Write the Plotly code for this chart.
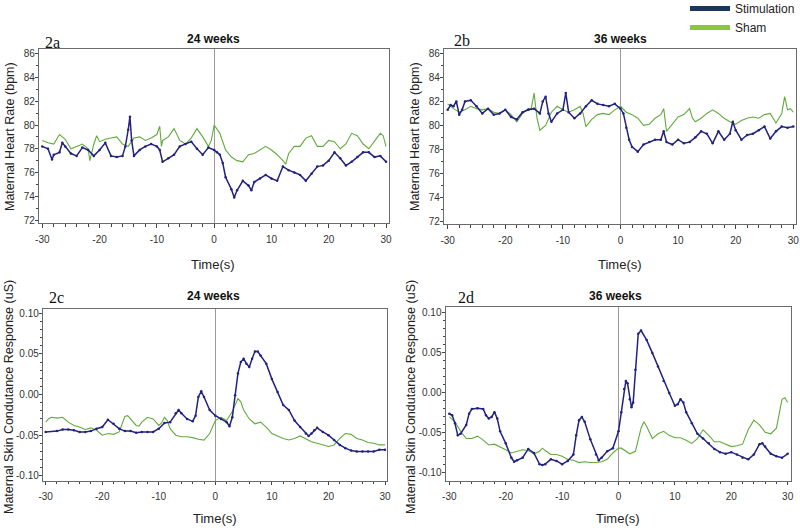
import plotly.graph_objects as go

# ---------------- data ----------------
# Panel 2a (24 weeks, heart rate)
t_a_stim = [-30,-29,-28.3,-28,-27,-26.5,-26,-25,-24,-23,-22,-21,-20,-19,-18,-17,-16,-15.5,-15,-14.7,-14.4,-14,-13,-12,-11,-10,-9.5,-9,-8,-7,-6,-5,-4,-3,-2,-1,0,0.5,1,1.5,2,3,3.5,4,5,6,6.5,7,8,9,10,11,12,13,14,15,16,17,18,19,20,21,22,23,24,25,26,27,28,29,30]
hr_a_stim = [78.2,78.0,77.1,77.5,77.7,78.5,78.2,77.6,77.4,78.1,77.9,77.4,77.9,78.5,77.4,77.3,77.4,78.2,79.6,80.7,78.7,77.4,77.9,78.2,78.4,78.2,77.9,76.9,77.2,77.5,78.2,78.4,78.6,78.0,77.5,78.1,77.9,77.7,77.5,76.8,75.6,74.6,73.9,74.5,75.3,74.9,74.5,75.2,75.5,75.8,75.5,75.3,76.5,76.2,76.0,75.8,75.3,75.9,76.5,76.6,77.0,77.7,77.2,76.6,76.9,77.3,77.7,77.7,77.3,77.4,76.9]
t_a_sham = [-30,-29,-28,-27,-26,-25,-24,-23,-22,-21.7,-21,-20.5,-20,-19,-18,-17,-16,-15,-14,-13,-12,-11,-10,-9.5,-9.2,-9,-8,-7,-6,-5,-4,-3,-2,-1,-0.5,0,1,2,3,4,5,6,7,8,9,10,11,12,12.5,13,14,15,16,17,18,19,20,21,22,23,24,25,26,27,28,29,29.5,30]
hr_a_sham = [78.7,78.5,78.4,79.2,78.8,78.0,78.2,78.4,78.0,77.0,78.4,79.1,78.6,78.8,78.9,79.0,78.4,78.2,78.9,79.0,78.7,78.9,79.2,79.9,78.2,78.7,79.0,79.7,78.7,78.4,78.9,79.7,79.0,78.2,78.7,80.0,79.3,77.9,77.3,77.0,76.9,77.5,77.6,77.9,78.2,77.9,77.5,77.0,76.7,77.6,78.2,78.2,78.9,79.1,78.2,78.2,78.7,78.6,78.0,78.4,79.3,79.1,78.4,78.0,78.7,79.3,79.1,78.2]

# Panel 2b (36 weeks, heart rate)
t_b_stim = [-30,-29.5,-29,-28.5,-28,-27.5,-27,-26,-25,-24,-23,-22,-21,-20,-19,-18,-17,-16,-15,-14,-13.5,-13,-12.5,-12,-11,-10,-9.5,-9,-8,-7,-6,-5,-4,-3,-2,-1,0,0.5,1,1.5,2,3,4,5,6,7,7.5,8,9,10,11,12,13,14,15,16,17,18,19,19.5,20,21,22,23,24,25,26,27,28,29,30]
hr_b_stim = [81.3,81.7,81.6,82.0,80.9,81.3,82.0,82.1,81.6,81.0,81.4,80.9,81.0,81.3,80.7,80.5,81.1,81.3,81.4,81.0,82.0,82.4,81.0,80.3,81.0,81.3,82.7,81.1,80.6,81.0,81.6,82.1,81.8,81.7,81.6,81.8,81.4,81.0,79.8,78.8,78.2,77.8,78.4,78.6,78.8,78.8,79.5,78.6,78.4,78.8,78.5,78.6,79.0,79.5,79.3,78.5,79.5,78.8,79.3,80.3,79.6,78.8,79.2,79.3,79.6,79.9,78.9,79.5,79.9,79.8,79.9]
t_b_sham = [-30,-29,-28,-27,-26,-25,-24,-23,-22,-21,-20,-19,-18,-17,-16,-15.5,-15,-14.5,-14,-13,-12,-11,-10,-9,-8,-7,-6.5,-6,-5,-4,-3,-2,-1,0,1,2,3,4,5,6,7,7.5,8,9,10,11,12,12.5,13,14,15,16,17,18,19,20,21,22,23,24,25,26,27,28,28.5,29,29.5,30]
hr_b_sham = [81.8,81.4,81.1,81.3,81.6,81.4,81.3,81.4,81.1,81.0,81.3,80.9,80.3,81.0,81.4,81.4,82.7,80.6,79.6,80.0,81.1,81.6,81.3,81.1,81.3,81.6,81.0,79.9,80.5,80.9,81.0,80.9,81.3,81.6,81.1,80.9,80.6,80.0,80.1,80.6,80.9,81.4,79.5,80.1,80.7,80.9,81.4,80.6,80.3,80.6,81.0,81.3,81.0,80.6,80.3,80.1,80.4,80.6,80.7,80.6,80.9,81.0,80.2,81.0,82.4,81.3,81.4,81.1]

# Panel 2c (24 weeks, skin conductance)
t_c_stim = [-30,-28,-27,-26,-25,-24,-23,-22,-21,-20,-19,-18,-17,-16,-15,-14,-13,-12,-11,-10,-9,-8,-7,-6.5,-6,-5,-4,-3.5,-3,-2.5,-2,-1,0,1,2,2.5,3,3.5,4,4.5,5,5.5,6,6.5,7,7.5,8,9,10,11,12,13,14,15,16,16.5,17,17.5,18,19,20,21,22,23,24,25,26,27,28,29,30]
sc_c_stim = [-0.046,-0.045,-0.043,-0.043,-0.044,-0.046,-0.046,-0.045,-0.042,-0.040,-0.031,-0.036,-0.042,-0.045,-0.045,-0.047,-0.046,-0.046,-0.046,-0.042,-0.035,-0.034,-0.023,-0.019,-0.023,-0.030,-0.033,-0.026,-0.003,0.004,-0.003,-0.019,-0.026,-0.030,-0.034,-0.039,-0.028,-0.001,0.026,0.040,0.044,0.038,0.034,0.044,0.053,0.053,0.048,0.038,0.019,0.003,-0.013,-0.019,-0.032,-0.040,-0.048,-0.051,-0.048,-0.044,-0.041,-0.046,-0.050,-0.056,-0.062,-0.066,-0.069,-0.070,-0.070,-0.070,-0.070,-0.068,-0.068]
t_c_sham = [-30,-29.5,-29,-28,-27,-26,-25,-24,-23,-22,-21,-20,-19,-18,-17,-16.5,-16,-15.5,-15,-14,-13.5,-13,-12,-11,-10,-9.5,-9,-8.5,-8,-7,-6,-5,-4,-3,-2,-1,0,1,2,3,4,4.5,5,6,7,8,9,10,11,12,13,14,15,16,17,18,19,20,21,22,23,24,25,26,27,28,29,30]
sc_c_sham = [-0.034,-0.030,-0.028,-0.029,-0.028,-0.034,-0.038,-0.040,-0.043,-0.041,-0.044,-0.050,-0.048,-0.049,-0.046,-0.036,-0.027,-0.026,-0.030,-0.038,-0.039,-0.034,-0.028,-0.030,-0.038,-0.035,-0.028,-0.032,-0.042,-0.050,-0.052,-0.052,-0.053,-0.055,-0.056,-0.048,-0.032,-0.028,-0.032,-0.021,-0.005,-0.009,-0.019,-0.030,-0.036,-0.034,-0.040,-0.048,-0.051,-0.054,-0.056,-0.054,-0.051,-0.054,-0.058,-0.060,-0.062,-0.064,-0.062,-0.054,-0.048,-0.049,-0.054,-0.056,-0.059,-0.060,-0.062,-0.062]

# Panel 2d (36 weeks, skin conductance)
t_d_stim = [-30,-29.5,-29,-28.5,-28,-27,-26.5,-26,-25,-24,-23.5,-23,-22.5,-22,-21.5,-21,-20,-19,-18.5,-18,-17,-16,-15,-14,-13.5,-13,-12,-11,-10,-9,-8,-7.5,-7,-6.5,-6,-5,-4,-3.5,-3,-2,-1,0,0.5,1,1.3,1.6,2,2.3,2.6,3,3.5,4,5,6,7,8,9,10,10.5,11,11.5,12,13,14,15,16,17,18,19,20,21,22,23,24,25,25.5,26,27,28,29,30]
sc_d_stim = [-0.026,-0.028,-0.038,-0.053,-0.051,-0.040,-0.026,-0.020,-0.019,-0.020,-0.028,-0.032,-0.030,-0.024,-0.032,-0.048,-0.063,-0.081,-0.086,-0.084,-0.081,-0.070,-0.075,-0.089,-0.090,-0.089,-0.083,-0.085,-0.089,-0.085,-0.077,-0.053,-0.034,-0.030,-0.036,-0.058,-0.077,-0.084,-0.081,-0.073,-0.069,-0.048,-0.024,0.005,0.015,0.012,-0.008,-0.018,-0.012,0.029,0.074,0.078,0.066,0.050,0.033,0.015,0.000,-0.016,-0.014,-0.008,-0.012,-0.024,-0.038,-0.051,-0.057,-0.063,-0.070,-0.074,-0.076,-0.074,-0.077,-0.081,-0.083,-0.077,-0.064,-0.063,-0.067,-0.076,-0.079,-0.081,-0.076]
t_d_sham = [-30,-29,-28,-27,-26,-25,-24,-23,-22,-21,-20,-19,-18,-17,-16,-15,-14,-13.5,-13,-12,-11,-10,-9,-8,-7,-6,-5,-4,-3,-2,-1,0,0.5,1,2,3,4,4.5,5,6,7,8,9,10,11,12,13,14,15,16,17,18,19,20,21,22,23,24,25,26,27,28,29,29.5,30]
sc_d_sham = [-0.030,-0.036,-0.048,-0.057,-0.057,-0.054,-0.059,-0.065,-0.064,-0.067,-0.071,-0.075,-0.073,-0.071,-0.072,-0.076,-0.073,-0.069,-0.072,-0.077,-0.077,-0.079,-0.083,-0.084,-0.087,-0.086,-0.087,-0.087,-0.086,-0.083,-0.075,-0.069,-0.069,-0.071,-0.076,-0.073,-0.044,-0.036,-0.042,-0.057,-0.051,-0.048,-0.053,-0.056,-0.056,-0.059,-0.063,-0.057,-0.046,-0.053,-0.061,-0.061,-0.064,-0.067,-0.066,-0.064,-0.046,-0.034,-0.040,-0.049,-0.051,-0.044,-0.008,-0.006,-0.012]

panel_labels = ["2a", "2b", "2c", "2d"]
panel_titles = ["24 weeks", "36 weeks", "24 weeks", "36 weeks"]
series_names = ["Stimulation", "Sham"]
hr_ticks = [72, 74, 76, 78, 80, 82, 84, 86]
sc_ticks = [-0.10, -0.05, 0.00, 0.05, 0.10]
sc_tick_text = ["-0.10", "-0.05", "0.00", "0.05", "0.10"]
x_ticks = [-30, -20, -10, 0, 10, 20, 30]
x_tick_text = ["-30", "-20", "-10", "0", "10", "20", "30"]

# ---------------- style ----------------
NAVY = "#22227f"
GREEN = "#62aa3c"
LEG_NAVY = "#1b365d"
LEG_GREEN = "#8cc63f"
FONT = "Liberation Sans, Arial, sans-serif"

fig = go.Figure()

panels = [
    (t_a_stim, hr_a_stim, t_a_sham, hr_a_sham),
    (t_b_stim, hr_b_stim, t_b_sham, hr_b_sham),
    (t_c_stim, sc_c_stim, t_c_sham, sc_c_sham),
    (t_d_stim, sc_d_stim, t_d_sham, sc_d_sham),
]
suffix = ["", "2", "3", "4"]
for i, (ts, ys, tg, yg) in enumerate(panels):
    xa, ya = "x" + suffix[i], "y" + suffix[i]
    fig.add_trace(go.Scatter(x=tg, y=yg, mode="lines", line=dict(color=GREEN, width=1.1),
                             xaxis=xa, yaxis=ya, showlegend=False))
    fig.add_trace(go.Scatter(x=ts, y=ys, mode="lines+markers", line=dict(color=NAVY, width=1.5),
                             marker=dict(color=NAVY, size=2.5),
                             xaxis=xa, yaxis=ya, showlegend=False))

# legend entries
fig.add_trace(go.Scatter(x=[None], y=[None], mode="lines", name=series_names[0],
                         line=dict(color=LEG_NAVY, width=5)))
fig.add_trace(go.Scatter(x=[None], y=[None], mode="lines", name=series_names[1],
                         line=dict(color=LEG_GREEN, width=5)))

W, H = 800, 528
# plot boxes in pixel space -> domains
boxes = [(39.3, 389.0, 49.0, 223.0), (444.3, 796.0, 49.0, 224.0),
         (43.3, 386.7, 309.0, 480.5), (446.0, 791.0, 307.3, 480.5)]
xranges = [[-30.52, 30.52], [-30.59, 30.47], [-30.42, 30.3], [-30.59, 30.59]]
yranges = [[71.75, 86.4], [71.75, 86.39], [-0.1058, 0.1053], [-0.1094, 0.107]]

axis_common = dict(showline=True, linecolor="#6b6b6b", linewidth=1, mirror=True,
                   ticks="outside", ticklen=3.5, tickcolor="#444", showgrid=False,
                   automargin=False,
                   tickfont=dict(family=FONT, size=10, color="#333"))
for i in range(4):
    x0, x1, y0, y1 = boxes[i]
    xd = [x0 / W, x1 / W]
    yd = [1 - y1 / H, 1 - y0 / H]
    xkey = "xaxis" + suffix[i]
    ykey = "yaxis" + suffix[i]
    fig.update_layout(**{
        xkey: dict(domain=xd, range=xranges[i], anchor="y" + suffix[i],
                   tickvals=x_ticks, ticktext=x_tick_text,
                   zeroline=True, zerolinecolor="#9a9a9a", zerolinewidth=1,
                   ticklabelstandoff=3,
                   minor=dict(dtick=2, ticks="outside", ticklen=2.5, tickcolor="#444"),
                   **axis_common),
        ykey: dict(domain=yd, range=yranges[i], anchor="x" + suffix[i], zeroline=False,
                   ticklabelstandoff=-2,
                   **axis_common),
    })
    if i < 2:
        fig.update_layout(**{ykey: dict(tickvals=hr_ticks,
                                        minor=dict(dtick=1, ticks="outside", ticklen=2.5, tickcolor="#444"))})
    else:
        fig.update_layout(**{ykey: dict(tickvals=sc_ticks, ticktext=sc_tick_text,
                                        minor=dict(dtick=0.01, ticks="outside", ticklen=2.5, tickcolor="#444"))})

annotations = []
ytitles = ["Maternal Heart Rate (bpm)", "Maternal Heart Rate (bpm)",
           "Maternal Skin Condutance Response (uS)", "Maternal Skin Condutance Response (uS)"]
ytitle_pos = [(10, 137), (415, 137), (9, 397), (411, 397)]
xtitle_pos = [(213, 264), (620, 264), (215, 518), (618, 518)]
title_pos = [(213, 39), (620, 39), (213, 296), (615, 296)]
label_pos = [(43, 42), (452, 40), (47, 297), (456, 297)]
for i in range(4):
    annotations.append(dict(text=ytitles[i], x=ytitle_pos[i][0] / W, y=1 - ytitle_pos[i][1] / H,
                            xref="paper", yref="paper", textangle=-90, showarrow=False,
                            xanchor="center", yanchor="middle",
                            font=dict(family=FONT, size=12.5, color="#222")))
    annotations.append(dict(text="Time(s)", x=xtitle_pos[i][0] / W, y=1 - xtitle_pos[i][1] / H,
                            xref="paper", yref="paper", showarrow=False,
                            xanchor="center", yanchor="middle",
                            font=dict(family=FONT, size=13, color="#222")))
    annotations.append(dict(text="<b>" + panel_titles[i] + "</b>", x=title_pos[i][0] / W,
                            y=1 - title_pos[i][1] / H, xref="paper", yref="paper", showarrow=False,
                            xanchor="center", yanchor="middle",
                            font=dict(family=FONT, size=12, color="#111")))
    annotations.append(dict(text=panel_labels[i], x=label_pos[i][0] / W, y=1 - label_pos[i][1] / H,
                            xref="paper", yref="paper", showarrow=False, xanchor="left",
                            yanchor="middle",
                            font=dict(family="Liberation Serif, Times New Roman, serif", size=16, color="#111")))

fig.update_layout(
    template="none",
    width=W, height=H, margin=dict(l=0, r=0, t=0, b=0, autoexpand=False),
    paper_bgcolor="white", plot_bgcolor="white",
    annotations=annotations,
    showlegend=True,
    legend=dict(x=685 / W, y=1 + 6 / H, xanchor="left", yanchor="top",
                font=dict(family=FONT, size=12, color="#222"),
                bgcolor="rgba(0,0,0,0)", tracegroupgap=0, itemwidth=40),
)

fig.write_html("out.html", config={"displayModeBar": False},
               post_script="document.body.style.margin='0px';")
